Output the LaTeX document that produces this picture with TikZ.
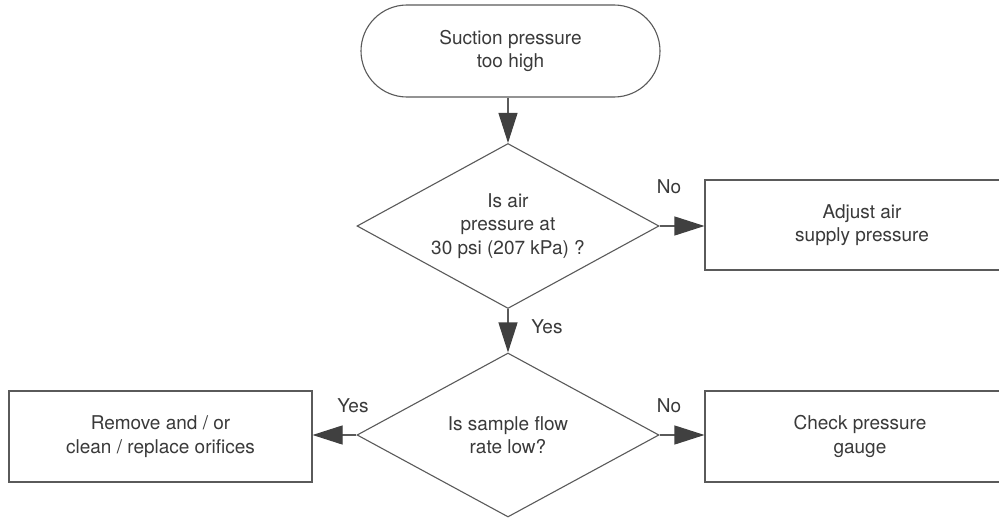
\documentclass[tikz,border=0pt]{standalone}
\usepackage{fontspec}
\setmainfont{TeX Gyre Heros}
\usetikzlibrary{shapes.geometric,arrows.meta}
\definecolor{edgegray}{HTML}{5A5A5A}
\definecolor{tipgray}{HTML}{404040}
\definecolor{txtgray}{HTML}{3A3A3A}
\tikzset{
  base/.style={draw=edgegray, line width=1.1pt, align=center, text=txtgray,
    font=\fontsize{19}{23.5}\selectfont, inner sep=0pt},
  term/.style={base, rectangle, rounded corners=46pt, minimum width=299pt, minimum height=92pt},
  decision/.style={base, diamond, aspect=1.82, minimum width=302pt, minimum height=165pt},
  proc/.style={base, rectangle, minimum height=90pt},
  arr/.style={draw=edgegray, line width=1.1pt,
    -{Triangle[length=30pt, width=19pt, fill=tipgray, color=tipgray]}},
  lbl/.style={text=txtgray, font=\fontsize{19}{23.5}\selectfont, inner sep=0pt}
}
\begin{document}
\begin{tikzpicture}[x=1pt,y=-1pt]
\useasboundingbox[fill=white] (0,0) rectangle (999,519);
\clip (0,0) rectangle (999,519);
\node[term] (start) at (510.5,51) {Suction pressure\\too high};
\node[decision] (d1) at (508,226) {Is air\\pressure at\\30 psi (207 kPa) ?};
\node[proc, minimum width=314pt] (b1) at (862,225) {Adjust air\\supply pressure};
\node[decision, minimum height=164pt] (d2) at (508,435) {Is sample flow\\rate low?};
\node[proc, minimum width=303pt, minimum height=91pt] (b2) at (160.5,436.5) {Remove and / or\\clean / replace orifices};
\node[proc, minimum width=310pt, minimum height=91pt] (b3) at (860,436.5) {Check pressure\\gauge};

\draw[arr] (start.south -| d1.north) -- (d1.north);
\draw[arr] (d1.east) -- (b1.west |- d1.east);
\draw[arr] (d1.south) -- (d2.north);
\draw[arr] (d2.west) -- (b2.east |- d2.west);
\draw[arr] (d2.east) -- (b3.west |- d2.east);

\node[lbl] (no1) at (669,187) {No};
\node[lbl] (yes1) at (547,327) {Yes};
\node[lbl] (yes2) at (353,406) {Yes};
\node[lbl] (no2) at (669,406) {No};
\end{tikzpicture}
\end{document}
